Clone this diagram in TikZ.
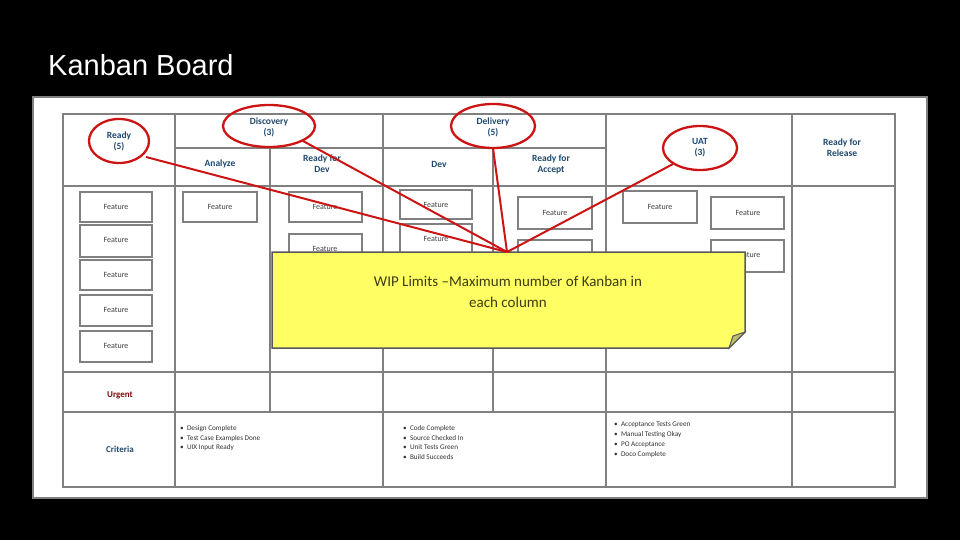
\documentclass[tikz,border=0pt]{standalone}
\usepackage{fontspec}
\setmainfont{Carlito}
\newfontfamily\titlefont{Liberation Sans}
\definecolor{hdblue}{RGB}{31,73,110}
\definecolor{wipred}{RGB}{205,20,20}
\definecolor{noteyel}{RGB}{255,255,100}
\definecolor{notefold}{RGB}{190,190,110}
\definecolor{notetxt}{RGB}{60,60,20}
\definecolor{urgred}{RGB}{130,10,10}
\begin{document}
\begin{tikzpicture}[x=1pt,y=-1pt,
  grid/.style={draw=black!50,line width=2.5pt},
  card/.style={draw=black!50,line width=2.5pt,fill=white},
  ftext/.style={font=\fontsize{8}{9}\selectfont,text=black!75},
  head/.style={font=\bfseries\fontsize{9.5}{11}\selectfont,text=hdblue,align=center},
  wip/.style={draw=wipred,line width=2.3pt},
  crit/.style={font=\fontsize{7.2}{9.8}\selectfont,text=black!80,align=left,anchor=north west,inner sep=0pt}]
\fill[black] (0,0) rectangle (960,540);
\useasboundingbox (0,0) rectangle (960,540);
\node[anchor=base west,text=white,font=\titlefont\fontsize{29}{34}\selectfont,inner sep=0pt] (title) at (48,76) {Kanban Board};
\fill[white,draw=black!50,line width=1.5pt] (33,97) rectangle (927,498);
% grid
\draw[grid] (63,114) rectangle (895,487);
\foreach \x in {175,383,606,792}{\draw[grid] (\x,114) -- (\x,487);}
\foreach \x in {270,493}{\draw[grid] (\x,148) -- (\x,412);}
\draw[grid] (175,148) -- (606,148);
\foreach \y in {186,372,412}{\draw[grid] (63,\y) -- (895,\y);}
% headers
\node[head] (hready) at (119,141) {Ready\\(5)};
\node[head] (hdisc) at (269,127) {Discovery\\(3)};
\node[head] (hdel) at (493,127) {Delivery\\(5)};
\node[head] (han) at (220,164) {Analyze};
\node[head] (hrfd) at (322,164) {Ready for\\Dev};
\node[head] (hdev) at (439,164) {Dev};
\node[head] (hrfa) at (551,164) {Ready for\\Accept};
\node[head] (huat) at (700,148) {UAT\\(3)};
\node[head] (hrel) at (842,148) {Ready for\\Release};
% cards
\foreach \n/\xa/\ya/\xb/\yb in {c1/80/192/152/222, c2/80/225/152/257, c3/80/260/152/290, c4/80/295/152/326, c5/80/331/152/362,
  c6/183/192/257/222, c7/289/192/362/222, c8/289/234/362/270, c9/400/190/472/219, c10/400/224/472/262,
  c11/518/197/592/229, c12/518/240/592/275, c13/623/191/697/223, c14/711/197/784/229, c15/711/240/784/272}{
  \draw[card] (\xa,\ya) rectangle (\xb,\yb);}
\foreach \n/\x/\y in {f1/116/207, f2/116/240, f3/116/275, f4/116/310, f5/116/346, f6/220/207, f7/325/207, f8/325/249,
  f9/436/205, f10/436/239, f11/555/213, f13/660/207, f14/748/213, f15/748/255}{
  \node[ftext] (\n) at (\x,\y) {Feature};}
% note
\fill[noteyel,draw=black!65,line width=1.5pt]
  (272,252) -- (745,252) -- (745,332) -- (729,348) -- (272,348) -- cycle;
\fill[notefold,draw=black!65,line width=1pt] (745,332) -- (733,336) -- (729,348) -- cycle;
\node[font=\fontsize{15}{21}\selectfont,text=notetxt,align=center] (note) at (508,292)
  {WIP Limits --Maximum number of Kanban in\\each column};
\coordinate (tip) at (507,252);
% ellipses and lines
\draw[wip] (119,141) ellipse (30 and 22);
\draw[wip] (269,126) ellipse (46 and 21);
\draw[wip] (493,126) ellipse (42 and 22);
\draw[wip] (700,148) ellipse (37 and 22);
\coordinate (e1) at (146,157);
\coordinate (e2) at (303,141);
\coordinate (e3) at (493,148);
\coordinate (e4) at (673,164);
\draw[wip,line width=2pt] (e1) -- (tip);
\draw[wip,line width=2pt] (e2) -- (tip);
\draw[wip,line width=2pt] (e3) -- (tip);
\draw[wip,line width=2pt] (e4) -- (tip);
% bottom rows
\node[font=\bfseries\fontsize{9}{11}\selectfont,text=urgred] (urg) at (120,395) {Urgent};
\node[font=\bfseries\fontsize{9}{11}\selectfont,text=hdblue] (cri) at (120,449) {Criteria};
\node[crit] (l1) at (180,425) {\textbullet\ \ Design Complete\\\textbullet\ \ Test Case Examples Done\\\textbullet\ \ UIX Input Ready};
\node[crit] (l2) at (403,425) {\textbullet\ \ Code Complete\\\textbullet\ \ Source Checked In\\\textbullet\ \ Unit Tests Green\\\textbullet\ \ Build Succeeds};
\node[crit] (l3) at (614,422) {\textbullet\ \ Acceptance Tests Green\\\textbullet\ \ Manual Testing Okay\\\textbullet\ \ PO Acceptance\\\textbullet\ \ Doco Complete};
\end{tikzpicture}
\end{document}
